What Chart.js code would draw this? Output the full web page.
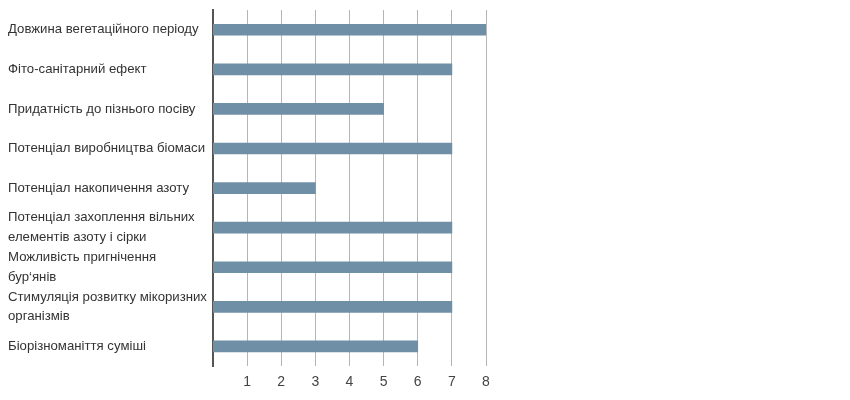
<!DOCTYPE html>
<html>
<head>
<meta charset="utf-8">
<script src="https://cdn.jsdelivr.net/npm/chart.js@4"></script>
<style>
  html, body { margin: 0; padding: 0; background: #fff; }
  #wrap { width: 850px; height: 400px; position: relative; }
</style>
</head>
<body>
<div id="wrap"><canvas id="chart"></canvas></div>
<script>
const labels = [
    'Довжина вегетаційного періоду',
    'Фіто-санітарний ефект',
    'Придатність до пізнього посіву',
    'Потенціал виробництва біомаси',
    'Потенціал накопичення азоту',
    ['Потенціал захоплення вільних', 'елементів азоту і сірки'],
    ['Можливість пригнічення', 'бур‘янів'],
    ['Стимуляція розвитку мікоризних', 'організмів'],
    'Біорізноманіття суміші'
];
const scores = [8, 7, 5, 7, 3, 7, 7, 7, 6];
const xTicks = [1, 2, 3, 4, 5, 6, 7, 8];

Chart.defaults.font.family = '"Liberation Sans", Arial, sans-serif';

let myChart = new Chart(document.getElementById('chart'), {
    type: 'bar',
    data: {
        labels: labels,
        datasets: [{
            data: scores,
            backgroundColor: '#6f8fa6',
            barThickness: 11
        }]
    },
    options: {
        indexAxis: 'y',
        responsive: true,
        maintainAspectRatio: false,
        animation: false,
        layout: {
            padding: { top: 10, right: 364, bottom: 1, left: 8 }
        },
        plugins: {
            legend: { display: false },
            tooltip: { enabled: false }
        },
        scales: {
            x: {
                min: 0,
                max: 8,
                afterBuildTicks: axis => {
                    axis.ticks = xTicks.map(v => ({ value: v }));
                },
                ticks: {
                    color: '#444',
                    font: { size: 14 },
                    padding: 8
                },
                grid: {
                    color: '#b5b5b5',
                    lineWidth: 1,
                    drawTicks: false
                },
                border: { display: false }
            },
            y: {
                ticks: {
                    color: '#333',
                    font: { size: 13.2, lineHeight: 1.5 },
                    crossAlign: 'far',
                    autoSkip: false,
                    padding: 8
                },
                grid: { display: false, drawTicks: false },
                border: { display: true, color: '#555', width: 2 },
                afterFit: axis => {
                    axis.width = 205;
                    axis.paddingTop = 0;
                    axis.paddingBottom = 0;
                }
            }
        }
    }
});
</script>
</body>
</html>
